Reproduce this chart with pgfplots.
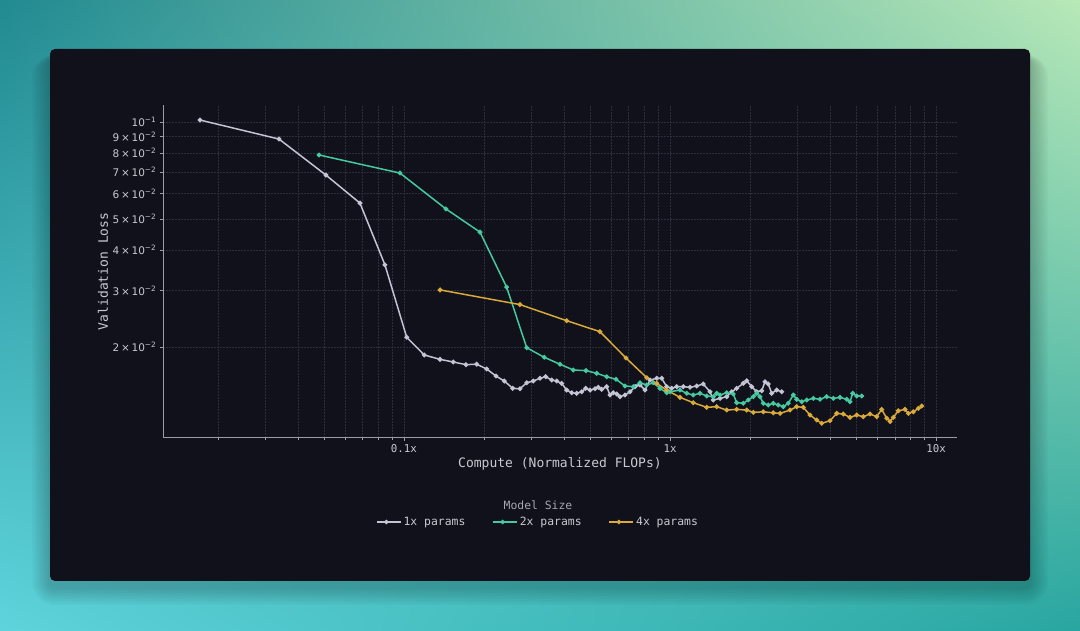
\documentclass[border=0pt]{standalone}
\usepackage{fontspec}
\setmainfont{DejaVu Sans Mono}
\newfontfamily\dvs{DejaVu Sans}
\usepackage{pgfplots}
\pgfplotsset{compat=1.18}

\definecolor{card}{HTML}{10111A}
\definecolor{gridc}{HTML}{2B2F3B}
\definecolor{axc}{HTML}{9A9CA6}
\definecolor{txt}{HTML}{C8C9D0}
\definecolor{ttl}{HTML}{A5A6AE}
\definecolor{cone}{HTML}{C2C4D4}
\definecolor{ctwo}{HTML}{45C9A0}
\definecolor{cfour}{HTML}{D9A93A}

\pgfdeclarefunctionalshading{bgshade}{\pgfpoint{0bp}{0bp}}{\pgfpoint{1080bp}{631bp}}{}{
631 div exch 1080 div exch
2 copy mul
2 index -0.21 mul 2 index -0.24 mul add 1 index 0.80 mul add 0.37 add
3 index -0.18 mul 3 index -0.29 mul add 2 index 0.55 mul add 0.83 add
4 index -0.23 mul 4 index -0.29 mul add 3 index 0.38 mul add 0.86 add
6 3 roll pop pop pop
}

\newcommand{\ytl}[2]{#1\,×\,10\textsuperscript{−#2}}

\begin{document}
\begin{tikzpicture}
\node[inner sep=0pt, outer sep=0pt, anchor=south west] at (0,0) {\pgfuseshading{bgshade}};
\foreach \i in {1,...,9} {
  \fill[black, opacity=0.025, rounded corners=5bp+\i*2bp] (50bp-\i*2bp,44bp-\i*2bp) rectangle (1030bp+\i*2bp,572bp+\i*0.5bp);
}
\fill[card, rounded corners=5bp] (50bp,50bp) rectangle (1030bp,582bp);
\begin{axis}[
  at={(163.3bp,193.3bp)}, anchor=south west,
  scale only axis, width=793.4bp, height=332.7bp,
  xmode=log, ymode=log,
  xmin=0.01245, xmax=11.96, ymin=0.010462, ymax=0.1129,
  axis x line*=bottom, axis y line*=left,
  axis line style={axc, line width=0.9bp},
  xtick={0.1,1,10}, xticklabels={0.1x,1x,10x},
  minor xtick={0.02,0.03,0.04,0.05,0.06,0.07,0.08,0.09,0.2,0.3,0.4,0.5,0.6,0.7,0.8,0.9,2,3,4,5,6,7,8,9},
  ytick={0.02,0.03,0.04,0.05,0.06,0.07,0.08,0.09,0.1},
  yticklabels={\ytl{2}{2},\ytl{3}{2},\ytl{4}{2},\ytl{5}{2},\ytl{6}{2},\ytl{7}{2},\ytl{8}{2},\ytl{9}{2},10\textsuperscript{−1}},
  minor ytick={},
  grid=both,
  major grid style={gridc, line width=0.6bp, dash pattern=on 2bp off 1bp},
  minor grid style={gridc, line width=0.6bp, dash pattern=on 2bp off 1bp},
  tick style={axc, line width=0.6bp},
  tick align=outside,
  major tick length=3.5bp, minor tick length=2bp,
  ticklabel style={txt, font=\fontsize{10.8bp}{12bp}\selectfont},
  yticklabel style={font=\dvs\fontsize{10.5bp}{12bp}\selectfont},
  xlabel={Compute (Normalized FLOPs)}, ylabel={Validation Loss},
  label style={txt, font=\fontsize{13bp}{15bp}\selectfont},
  xlabel style={at={(axis description cs:0.5,-0.079)}, anchor=center},
  ylabel style={at={(axis description cs:-0.076,0.5)}, anchor=center},
  legend style={at={(axis description cs:0.4723,-0.2534)}, anchor=center, draw=none, fill=none, text=txt,
    font=\fontsize{11.4bp}{13bp}\selectfont, legend columns=3,
    /tikz/every even column/.append style={column sep=25bp}},
  legend image code/.code={\path (0bp,0bp) -- (24bp,0bp);\draw[line width=1.2bp, mark repeat=2,mark phase=2] plot coordinates {(0bp,0bp) (9.5bp,0bp) (19bp,0bp)};},
  every axis plot/.append style={line width=1.5bp, mark=*, mark size=1.6bp},
]
\addplot[cone, mark options={fill=cone!60!white, draw=none}] coordinates {
(0.0171,0.1014) (0.0339,0.0885) (0.0509,0.0684) (0.0683,0.0560) (0.0848,0.0360) (0.1024,0.02145) (0.1192,0.0189) (0.1366,0.01832) (0.1532,0.01798) (0.1710,0.01764) (0.1876,0.01769) (0.2046,0.01710) (0.2218,0.01626) (0.2383,0.01569) (0.2563,0.01489) (0.2729,0.01485) (0.2893,0.01550) (0.3062,0.01569) (0.3245,0.0160) (0.3409,0.01618) (0.3592,0.01580) (0.3751,0.01569) (0.3916,0.01543) (0.4089,0.01471) (0.4270,0.01443) (0.4459,0.01437) (0.4656,0.01453) (0.4821,0.01489) (0.5006,0.01471) (0.5224,0.01485) (0.5376,0.01500) (0.5536,0.01479) (0.5781,0.01507) (0.5947,0.01420) (0.6120,0.01443) (0.6304,0.01430) (0.6486,0.01403) (0.6773,0.01420) (0.7073,0.01453) (0.7387,0.01507) (0.7714,0.01525) (0.8055,0.01471) (0.8410,0.01580) (0.8913,0.0160) (0.9307,0.0160) (0.9718,0.01507) (1.0148,0.01489) (1.0597,0.01507) (1.122,0.01507) (1.189,0.01500) (1.260,0.01514) (1.334,0.01536) (1.414,0.01453) (1.455,0.01370) (1.542,0.01386) (1.634,0.01403) (1.706,0.01453) (1.781,0.01489) (1.886,0.01543) (1.942,0.01572) (2.028,0.01507) (2.118,0.01453) (2.212,0.01464) (2.276,0.01561) (2.342,0.01536) (2.412,0.01437) (2.518,0.01471) (2.630,0.01453)
};
\addlegendentry{1x params}
\addplot[ctwo, mark options={fill=ctwo!80!white, draw=none}] coordinates {
(0.0479,0.0790) (0.0966,0.0694) (0.1438,0.0537) (0.1931,0.0455) (0.2432,0.0307) (0.2893,0.01991) (0.3368,0.01859) (0.3858,0.01769) (0.4330,0.01698) (0.4833,0.01690) (0.5303,0.01658) (0.5781,0.01618) (0.6266,0.01589) (0.6773,0.01514) (0.7278,0.01507) (0.7714,0.01550) (0.8177,0.01525) (0.8655,0.01550) (0.9170,0.01489) (0.9718,0.01443) (1.0,0.01453) (1.0905,0.01471) (1.156,0.01437) (1.223,0.01420) (1.296,0.01437) (1.374,0.01410) (1.455,0.01403) (1.498,0.01437) (1.542,0.01420) (1.634,0.01443) (1.730,0.01430) (1.781,0.01344) (1.886,0.01338) (1.970,0.01370) (2.057,0.01403) (2.118,0.01437) (2.179,0.01403) (2.243,0.01338) (2.342,0.01322) (2.445,0.01338) (2.553,0.01322) (2.666,0.01306) (2.784,0.01338) (2.908,0.01420) (2.994,0.01377) (3.127,0.01353) (3.265,0.01370) (3.457,0.01386) (3.664,0.01377) (3.882,0.01403) (4.111,0.01386) (4.356,0.01396) (4.616,0.01377) (4.750,0.01353) (4.862,0.01437) (5.034,0.01410) (5.257,0.01410)
};
\addlegendentry{2x params}
\addplot[cfour, mark options={fill=cfour!85!white, draw=none}] coordinates {
(0.1366,0.0301) (0.2729,0.0271) (0.4089,0.02415) (0.5455,0.02233) (0.6832,0.01850) (0.8177,0.01607) (0.8913,0.01543) (0.9718,0.01471) (1.0905,0.01396) (1.223,0.01344) (1.374,0.01300) (1.498,0.01306) (1.634,0.01275) (1.781,0.01281) (1.942,0.01275) (2.057,0.01254) (2.243,0.01259) (2.445,0.01250) (2.592,0.01245) (2.826,0.01275) (2.994,0.01306) (3.170,0.01300) (3.360,0.01230) (3.561,0.01187) (3.718,0.01160) (3.995,0.01181) (4.234,0.01245) (4.483,0.01239) (4.750,0.01210) (5.034,0.01230) (5.330,0.01216) (5.647,0.01239) (5.985,0.01216) (6.250,0.01281) (6.527,0.01202) (6.716,0.01174) (6.911,0.01210) (7.217,0.01268) (7.647,0.01281) (7.868,0.01245) (8.216,0.01259) (8.580,0.01290) (8.836,0.01312)
};
\addlegendentry{4x params}
\end{axis}
\node[text=ttl, font=\fontsize{11.4bp}{13bp}\selectfont] at (538bp,126bp) {Model Size};
\end{tikzpicture}
\end{document}
